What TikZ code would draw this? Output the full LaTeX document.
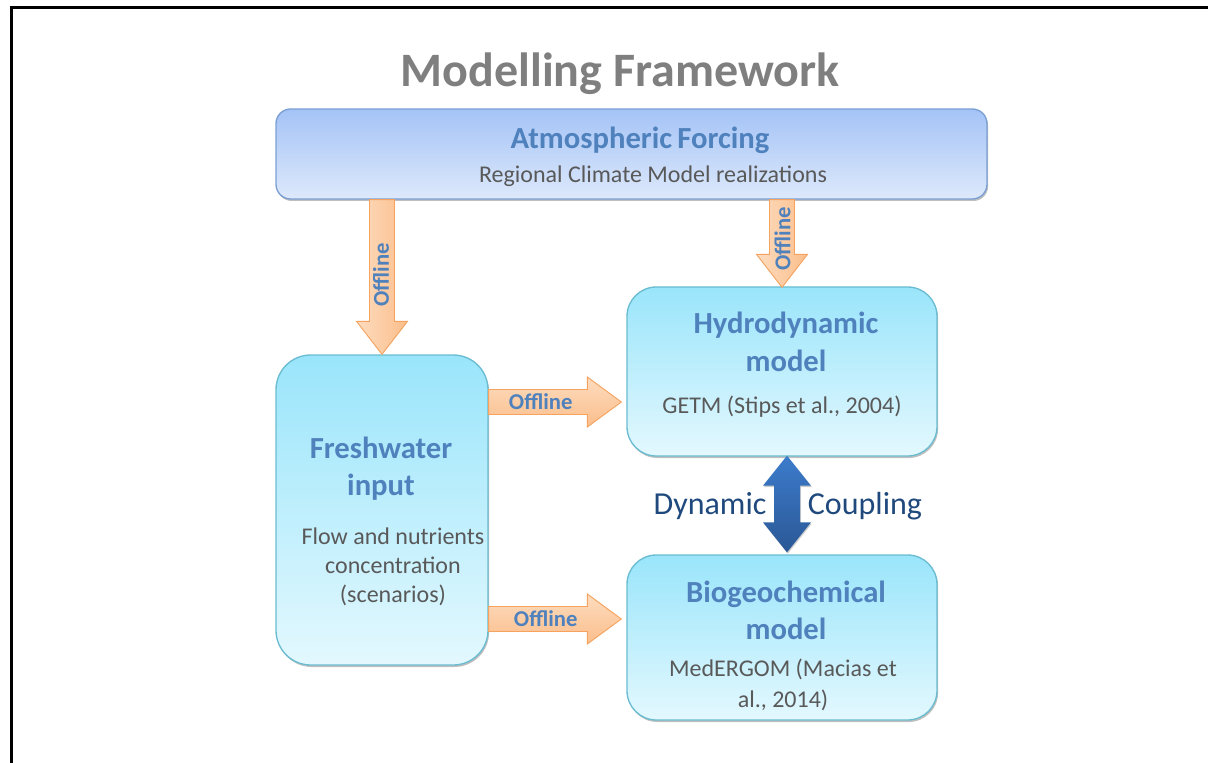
\documentclass[tikz,border=0pt]{standalone}
\usepackage{fontspec}
\setmainfont{Carlito}
\usetikzlibrary{calc,shadows}
\definecolor{atmtop}{HTML}{A4C3F6}
\definecolor{atmbot}{HTML}{DDE9FB}
\definecolor{atmborder}{HTML}{7B9FD3}
\definecolor{cyantop}{HTML}{9AE5FB}
\definecolor{cyanbot}{HTML}{E3F8FE}
\definecolor{cyanborder}{HTML}{6ABCD0}
\definecolor{headblue}{HTML}{4F81BD}
\definecolor{bodygray}{HTML}{595959}
\definecolor{titlegray}{HTML}{7F7F7F}
\definecolor{orlight}{HTML}{FDDCBE}
\definecolor{ordark}{HTML}{FBBE8C}
\definecolor{orborder}{HTML}{F5A35E}
\definecolor{dbtop}{HTML}{3C7BCB}
\definecolor{dbbot}{HTML}{2B5896}
\definecolor{couplingblue}{HTML}{1F497D}
\begin{document}
\begin{tikzpicture}[x=0.75pt,y=-0.75pt,
  boxshadow/.style={drop shadow={shadow xshift=0.8pt,shadow yshift=-1.5pt,opacity=0.25,fill=black}},
  atmbox/.style={draw=atmborder,line width=1pt,top color=atmtop,bottom color=atmbot,rounded corners=11pt,inner sep=0pt,boxshadow},
  cyanbox/.style={draw=cyanborder,line width=1pt,top color=cyantop,bottom color=cyanbot,inner sep=0pt,boxshadow},
  heading/.style={font=\fontsize{23}{28}\selectfont\bfseries,text=headblue,anchor=base,inner sep=0pt},
  body/.style={font=\fontsize{18}{22}\selectfont,text=bodygray,anchor=base,inner sep=0pt},
  offh/.style={draw=orborder,line width=0.7pt,top color=orlight,bottom color=ordark},
  offv/.style={draw=orborder,line width=0.7pt,left color=orlight,right color=ordark},
  offlabel/.style={font=\fontsize{17}{20}\selectfont\bfseries,text=headblue,inner sep=0pt},
  coupling/.style={font=\fontsize{24}{28}\selectfont,text=couplingblue,anchor=base,inner sep=0pt}
]
\useasboundingbox (0,0) rectangle (1208,763);
% frame
\draw[line width=2.3pt,black] (11.5,763) -- (11.5,7.5) -- (1208,7.5);

% title
\node[font=\fontsize{36}{40}\selectfont\bfseries,text=titlegray,anchor=base,inner sep=0pt] (title) at (620,87) {Modelling Framework};

% boxes
\node[atmbox,minimum width=711*0.75pt,minimum height=90*0.75pt] (atm) at (631.5,154) {};
\node[cyanbox,rounded corners=26pt,minimum width=212*0.75pt,minimum height=310*0.75pt] (fw) at (382,510) {};
\node[cyanbox,rounded corners=22pt,minimum width=310*0.75pt,minimum height=169*0.75pt] (hyd) at (782,371.5) {};
\node[cyanbox,rounded corners=22pt,minimum width=310*0.75pt,minimum height=165*0.75pt] (bio) at (782,637.5) {};

% texts
\node[heading] (atmh) at (640,149) {Atmospheric\,Forcing};
\node[body] (atmb) at (653,183) {Regional Climate Model realizations};

\node[heading] (fwh1) at (381,458) {Freshwater};
\node[heading] (fwh2) at (381,495) {input};
\node[body] (fwb1) at (393,544) {Flow and nutrients};
\node[body] (fwb2) at (393,573) {concentration};
\node[body] (fwb3) at (393,602) {(scenarios)};

\node[heading] (hydh1) at (786,334) {Hydrodynamic};
\node[heading] (hydh2) at (786,372) {model};
\node[body] (hydb) at (782,413) {GETM (Stips et al., 2004)};

\node[heading] (bioh1) at (786,602) {Biogeochemical};
\node[heading] (bioh2) at (786,639) {model};
\node[body] (biob1) at (783,676) {MedERGOM (Macias et};
\node[body] (biob2) at (783,707) {al., 2014)};

% arrow end points
\coordinate (a1s) at (fw.north |- atm.south);
\coordinate (a1t) at (fw.north);
\coordinate (a2s) at (hyd.north |- atm.south);
\coordinate (a2t) at ($(hyd.north)+(0,1)$);
\coordinate (a3s) at ($(fw.east |- hyd.center)+(0,30.5)$);
\coordinate (a3t) at ($(hyd.west |- a3s)+(-5,0)$);
\coordinate (a4s) at ($(fw.east |- bio.center)+(0,-18.5)$);
\coordinate (a4t) at ($(bio.west |- a4s)+(-5,0)$);
\coordinate (d1) at ($(hyd.south)+(5,-1)$);
\coordinate (d2) at ($(bio.north)+(5,-2)$);

% offline arrows (down)
\draw[offv] ($(a1s)+(-12.5,0)$) -- ($(a1t)+(-12.5,-33)$) -- ($(a1t)+(-25.5,-33)$) -- (a1t)
  -- ($(a1t)+(25.5,-33)$) -- ($(a1t)+(12.5,-33)$) -- ($(a1s)+(12.5,0)$) -- cycle;
\draw[offv] ($(a2s)+(-12.5,0)$) -- ($(a2t)+(-12.5,-33)$) -- ($(a2t)+(-25.5,-33)$) -- (a2t)
  -- ($(a2t)+(25.5,-33)$) -- ($(a2t)+(12.5,-33)$) -- ($(a2s)+(12.5,0)$) -- cycle;
% offline arrows (right)
\draw[offh] ($(a3s)+(0,-12.5)$) -- ($(a3t)+(-34,-12.5)$) -- ($(a3t)+(-34,-25)$) -- (a3t)
  -- ($(a3t)+(-34,25)$) -- ($(a3t)+(-34,12.5)$) -- ($(a3s)+(0,12.5)$) -- cycle;
\draw[offh] ($(a4s)+(0,-12.5)$) -- ($(a4t)+(-34,-12.5)$) -- ($(a4t)+(-34,-25)$) -- (a4t)
  -- ($(a4t)+(-34,25)$) -- ($(a4t)+(-34,12.5)$) -- ($(a4s)+(0,12.5)$) -- cycle;

\node[offlabel,rotate=90] (l1) at ($(a1s)+(-1,75)$) {Offline};
\node[offlabel,rotate=90] (l2) at ($(a2s)+(0.5,39)$) {Offline};
\node[offlabel] (l3) at ($(a3s)+(52,0)$) {Offline};
\node[offlabel] (l4) at ($(a4s)+(57,0)$) {Offline};

% dynamic coupling double arrow
\path[top color=dbtop,bottom color=dbbot,drop shadow={shadow xshift=0.6pt,shadow yshift=-1pt,opacity=0.2,fill=black}]
  (d1) -- ($(d1)+(24,30)$) -- ($(d1)+(13,30)$) -- ($(d2)+(13,-30)$) -- ($(d2)+(24,-30)$) -- (d2)
  -- ($(d2)+(-24,-30)$) -- ($(d2)+(-13,-30)$) -- ($(d1)+(-13,30)$) -- ($(d1)+(-24,30)$) -- cycle;
\node[coupling] (dyn) at (710,514) {Dynamic};
\node[coupling] (cpl) at (865,514) {Coupling};
\end{tikzpicture}
\end{document}
